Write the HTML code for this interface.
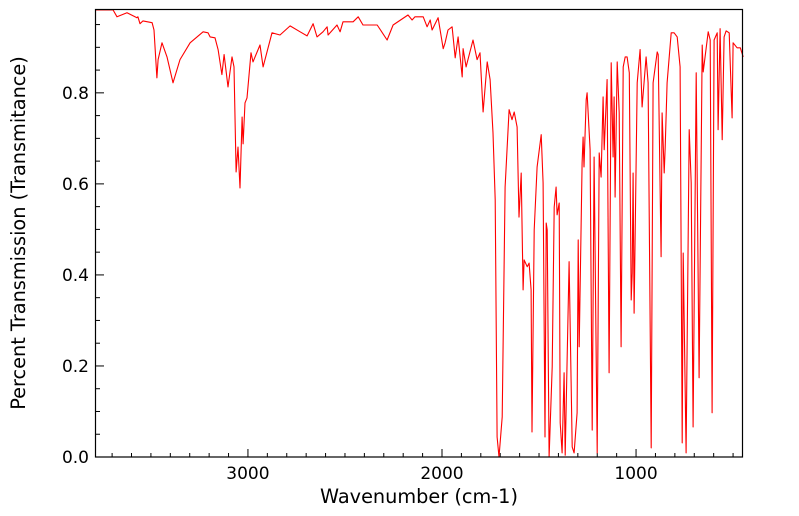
<!DOCTYPE html>
<html><head><meta charset="utf-8"><style>
html,body{margin:0;padding:0;background:#fff;width:799px;height:516px;overflow:hidden}
svg text{font-family:"DejaVu Sans","Liberation Sans",sans-serif;fill:#000}
</style></head><body>
<svg id="chart" width="799" height="516" viewBox="0 0 799 516" xmlns="http://www.w3.org/2000/svg">
<g id="axes"></g>
<path id="series" fill="none" stroke="#ff0000" stroke-width="1.1" stroke-linejoin="round"/>
<rect x="95.5" y="9.5" width="647" height="447.5" fill="none" stroke="#000" stroke-width="1.2"/>
<text x="419" y="503" font-size="19.3" text-anchor="middle">Wavenumber (cm-1)</text>
<text transform="translate(25,233) rotate(-90)" font-size="19.3" text-anchor="middle">Percent Transmission (Transmitance)</text>
</svg>
<script>
const wavenumbers=[3788,3695,3675,3623,3582,3572,3567,3556,3541,3494,3484,3469,3463,3443,3417,3386,3350,3298,3231,3206,3195,3170,3154,3134,3123,3103,3082,3072,3061,3051,3041,3030,3025,3015,3005,2984,2974,2938,2922,2876,2835,2783,2731,2695,2664,2644,2613,2592,2587,2541,2525,2510,2458,2432,2407,2334,2283,2252,2175,2154,2139,2097,2077,2061,2051,2020,1994,1984,1969,1948,1932,1917,1896,1891,1876,1840,1819,1804,1788,1767,1752,1737,1726,1716,1706,1690,1675,1654,1639,1628,1613,1603,1592,1582,1577,1561,1551,1541,1536,1525,1510,1489,1479,1469,1463,1458,1448,1432,1422,1412,1407,1396,1391,1381,1371,1365,1345,1329,1319,1304,1298,1293,1278,1273,1268,1257,1252,1237,1226,1216,1200,1190,1180,1170,1164,1149,1139,1128,1118,1113,1108,1097,1087,1077,1066,1056,1046,1035,1025,1020,1015,1010,994,979,969,948,938,922,912,891,886,871,866,855,850,840,819,804,788,773,762,757,742,726,716,706,690,675,659,654,628,618,608,598,582,577,567,556,546,536,520,505,500,479,463,448];
const transmittance=[.982,.982,.967,.976,.967,.965,.967,.952,.958,.954,.938,.833,.873,.910,.879,.822,.873,.910,.934,.932,.923,.921,.895,.840,.884,.813,.879,.857,.626,.681,.591,.747,.688,.778,.789,.888,.868,.905,.857,.932,.927,.947,.934,.925,.952,.923,.934,.945,.927,.949,.934,.956,.956,.967,.949,.949,.916,.949,.971,.960,.967,.967,.945,.960,.938,.965,.897,.910,.938,.945,.877,.923,.835,.897,.857,.916,.873,.888,.758,.868,.829,.712,.565,.044,0,.088,.593,.763,.741,.758,.725,.527,.624,.367,.433,.418,.426,.367,.055,.499,.637,.708,.602,.044,.514,.499,0,.198,.549,.593,.532,.558,.075,.009,.185,.004,.429,.022,.009,.097,.477,.242,.646,.703,.637,.785,.800,.675,.059,.659,.009,.668,.615,.791,.675,.829,.185,.866,.659,.791,.571,.868,.756,.242,.857,.879,.879,.844,.345,.404,.624,.316,.822,.895,.769,.879,.822,.020,.822,.890,.884,.440,.756,.624,.681,.822,.932,.932,.923,.857,.031,.448,.009,.719,.602,.066,.844,.174,.905,.846,.934,.916,.097,.916,.932,.719,.941,.697,.923,.936,.932,.745,.910,.899,.899,.879];
const xMajorTicks=[3000,2000,1000];
const yMajorTicks=[0,0.2,0.4,0.6,0.8];
const yTickLabels=["0.0","0.2","0.4","0.6","0.8"];
const X0=96,X1=742,Y0=457,Y1=10,WMAX=3783,WMIN=454,TMAX=0.982;
function xs(w){return X0+(WMAX-w)/(WMAX-WMIN)*(X1-X0);}
function ys(t){return Y0-t/TMAX*(Y0-Y1);}
const NS="http://www.w3.org/2000/svg";
const axes=document.getElementById('axes');
function line(x1,y1,x2,y2,name){const l=document.createElementNS(NS,'line');
l.setAttribute('x1',x1);l.setAttribute('y1',y1);l.setAttribute('x2',x2);l.setAttribute('y2',y2);
l.setAttribute('stroke','#000');l.setAttribute('stroke-width','1');


axes.appendChild(l);}
function label(x,y,s,anchor,name){const t=document.createElementNS(NS,'text');
t.setAttribute('x',x);t.setAttribute('y',y);t.setAttribute('font-size','17');t.setAttribute('text-anchor',anchor);t.textContent=s;


axes.appendChild(t);}
for(let w=3700;w>=500;w-=100){const x=xs(w);const major=xMajorTicks.includes(w);line(x,Y0,x,Y0-(major?8:4),major?'x-major-tick':'x-minor-tick');}
xMajorTicks.forEach(w=>label(xs(w),479,String(w),'middle','x-tick-label'));
for(let i=0;i<=19;i++){const t=i*0.05;const y=ys(t);if(y<Y1)break;const major=i%4===0;line(X0,y,X0+(major?8:4),y,major?'y-major-tick':'y-minor-tick');}
yMajorTicks.forEach((t,i)=>label(89,ys(t)+6,yTickLabels[i],'end','y-tick-label'));
let d='';wavenumbers.forEach((w,i)=>{d+=(i?'L':'M')+xs(w).toFixed(1)+','+ys(transmittance[i]).toFixed(1);});
document.getElementById('series').setAttribute('d',d);
</script>
</body></html>
